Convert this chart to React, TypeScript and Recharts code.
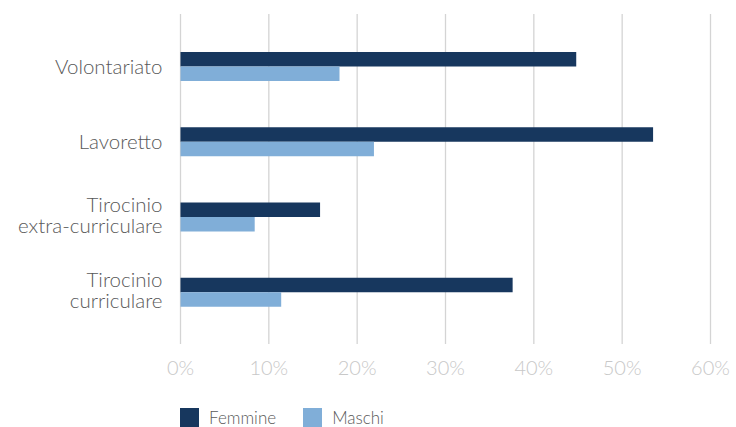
import React from 'react';
import { BarChart, Bar, XAxis, YAxis, CartesianGrid, Legend } from 'recharts';

const categories = ['Volontariato', 'Lavoretto', 'Tirocinio\nextra-curriculare', 'Tirocinio\ncurriculare'];
const femmine = [44.8, 53.5, 15.8, 37.6];
const maschi = [18.0, 21.9, 8.4, 11.4];
const xTicks = [0, 10, 20, 30, 40, 50, 60];
const seriesNames = ['Femmine', 'Maschi'];
const colors = ['#17375e', '#80aed8'];

const data = categories.map((c, i) => ({ name: c, Femmine: femmine[i], Maschi: maschi[i] }));

const FONT = 'Lato, "Liberation Sans", sans-serif';

const CatTick = (props: any) => {
  const { x, y, payload } = props;
  const lines = String(payload.value).split('\n');
  const lh = 21;
  const start = 7.3 - (lines.length - 1) * 12.6;
  return (
    <text x={x} y={y} textAnchor="end" fill="#595959" fontSize={20.5} fontFamily={FONT} fontWeight={300}>
      {lines.map((l: string, i: number) => (
        <tspan key={i} x={x} dy={i === 0 ? start : lh}>{l}</tspan>
      ))}
    </text>
  );
};

const LegendContent = () => (
  <div style={{ display: 'flex', alignItems: 'flex-start', height: 19, fontFamily: FONT, fontWeight: 300, fontSize: 17, color: '#595959' }}>
    {seriesNames.map((n, i) => (
      <div key={n} style={{ display: 'flex', alignItems: 'flex-start', marginRight: 27 }}>
        <div style={{ width: 19, height: 19, background: colors[i], marginRight: 10 }} />
        <span style={{ lineHeight: '17px', height: 17, whiteSpace: 'nowrap', marginTop: 1 }}>{n}</span>
      </div>
    ))}
  </div>
);

export default function App() {
  return (
    <div style={{ position: 'absolute', left: 0, top: 0, width: 736, height: 427, background: '#fff', overflow: 'hidden' }}>
      <BarChart
        width={736}
        height={427}
        data={data}
        layout="vertical"
        margin={{ top: 14, right: 25.5, left: 0.5, bottom: 0 }}
        barGap={0}
      >
        <CartesianGrid horizontal={false} vertical={true} stroke="#d4d4d4" strokeWidth={1.3} />
        <XAxis
          type="number"
          domain={[0, 60]}
          ticks={xTicks}
          tickFormatter={(v: number) => `${v}%`}
          axisLine={false}
          tickLine={false}
          tickMargin={11}
          height={83}
          tick={{ fill: '#c8c8c8', fontSize: 20, fontFamily: FONT, fontWeight: 300 }}
          interval={0}
        />
        <YAxis
          type="category"
          dataKey="name"
          width={180}
          axisLine={false}
          tickLine={false}
          tickMargin={12}
          tick={<CatTick />}
          padding={{ top: 15, bottom: 14 }}
          interval={0}
        />
        <Legend
          verticalAlign="middle"
          align="center"
          layout="horizontal"
          content={<LegendContent />}
          wrapperStyle={{ left: 180, top: 408, width: 400, height: 19 }}
        />
        <Bar dataKey="Femmine" fill={colors[0]} barSize={14.5} isAnimationActive={false} />
        <Bar dataKey="Maschi" fill={colors[1]} barSize={14.5} isAnimationActive={false} />
      </BarChart>
    </div>
  );
}
